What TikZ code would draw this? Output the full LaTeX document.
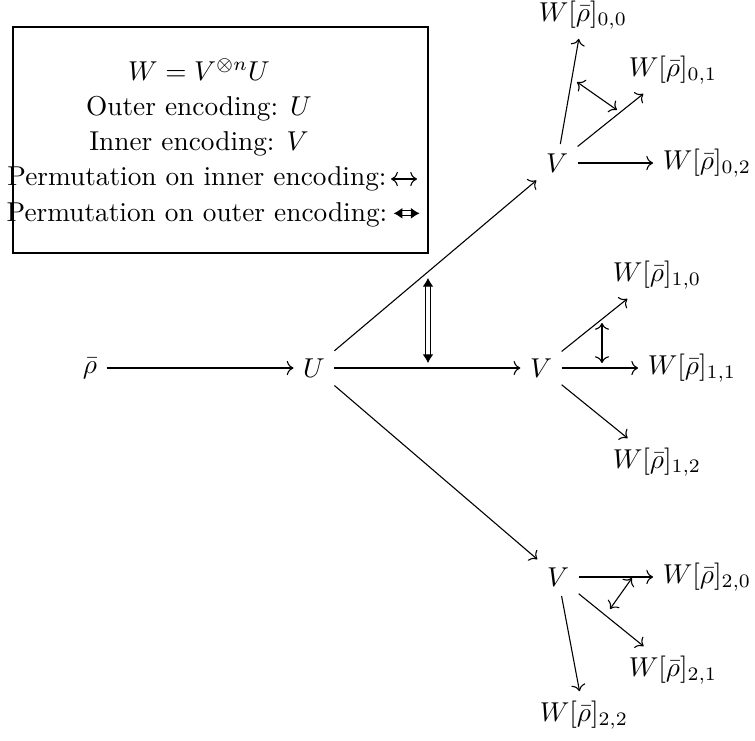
\documentclass[tikz,border=0pt]{standalone}
\usepackage{amsmath,amssymb}
\usetikzlibrary{arrows.meta}
\tikzset{
  arr/.style={->},
  perm/.style={<->},
  dperm/.style={double, double distance=1.5pt, {Latex[length=3.2pt,width=4pt]}-{Latex[length=3.2pt,width=4pt]}},
  legend/.style={anchor=base, inner sep=0pt},
}
\newcommand{\legarr}{\tikz[baseline=-2.5pt]\draw[perm] (0,0) -- (9.5pt,0);}
\newcommand{\legdarr}{\tikz[baseline=-2.5pt]\draw[dperm] (0,0) -- (9.5pt,0);}
\begin{document}
\begin{tikzpicture}[x=0.3663pt,y=-0.3663pt]
\useasboundingbox (0,0) rectangle (755,741);
% legend
\draw (13,27) rectangle (428,253);
\node[legend] (l1) at (199,80) {$W = V^{\otimes n}U$};
\node[legend] (l2) at (199,115.25) {Outer encoding: $U$};
\node[legend] (l3) at (199,150.5) {Inner encoding: $V$};
\node[legend] (l4) at (197,185.75) {Permutation on inner encoding:};
\node[legend] (l5) at (197,221) {Permutation on outer encoding:};
\node[anchor=west, inner sep=0pt] (a4) at (390,179) {\legarr};
\node[anchor=west, inner sep=0pt] (a5) at (390,214) {\legdarr};
% nodes
\node (rho) at (90,368) {$\bar\rho$};
\node (U) at (314,368) {$U$};
\node (V0) at (557,163) {$V$};
\node (V1) at (541,368) {$V$};
\node (V2) at (558,577) {$V$};
\node (W00) at (583,15) {$W[\bar\rho]_{0,0}$};
\node (W01) at (673,70) {$W[\bar\rho]_{0,1}$};
\node (W02) at (707,163) {$W[\bar\rho]_{0,2}$};
\node (W10) at (657,275) {$W[\bar\rho]_{1,0}$};
\node (W11) at (692,368) {$W[\bar\rho]_{1,1}$};
\node (W12) at (657,462) {$W[\bar\rho]_{1,2}$};
\node (W20) at (707,577) {$W[\bar\rho]_{2,0}$};
\node (W21) at (673,670) {$W[\bar\rho]_{2,1}$};
\node (W22) at (584,715) {$W[\bar\rho]_{2,2}$};
% edges
\draw[arr] (rho) -- (U);
\draw[arr] (U) -- (V0);
\draw[arr] (U) -- (V1);
\draw[arr] (U) -- (V2);
\draw[arr] (V0) -- (W00);
\draw[arr] (V0) -- (W01);
\draw[arr] (V0) -- (W02);
\draw[arr] (V1) -- (W10);
\draw[arr] (V1) -- (W11);
\draw[arr] (V1) -- (W12);
\draw[arr] (V2) -- (W20);
\draw[arr] (V2) -- (W21);
\draw[arr] (V2) -- (W22);
% permutations
\coordinate (pa1) at (428,278);
\coordinate (pa2) at (428,363);
\draw[dperm] (pa1) -- (pa2);
\coordinate (pb1) at (602,323);
\coordinate (pb2) at (602,363);
\draw[perm] (pb1) -- (pb2);
\coordinate (pc1) at (577,82);
\coordinate (pc2) at (617,110);
\draw[perm] (pc1) -- (pc2);
\coordinate (pd1) at (632,578);
\coordinate (pd2) at (610,609);
\draw[perm] (pd1) -- (pd2);
\end{tikzpicture}
\end{document}
